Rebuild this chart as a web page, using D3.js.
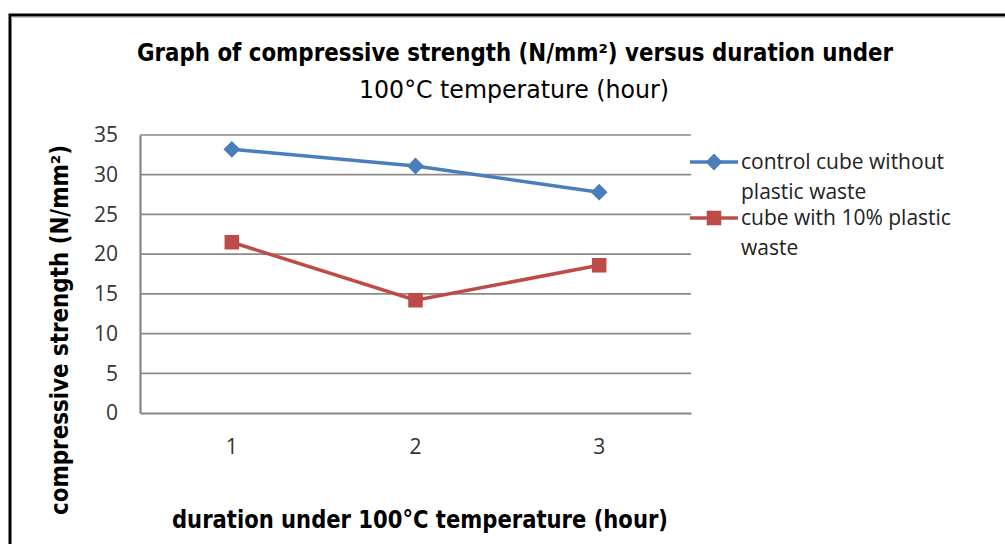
<!DOCTYPE html>
<html><head><meta charset="utf-8">
<script src="https://cdn.jsdelivr.net/npm/d3@7"></script>
<style>body{margin:0;background:#fff}svg{display:block}</style>
</head><body>
<svg id="c" width="1005" height="544"></svg>
<script>
const categories = ["1", "2", "3"];
const controlValues = [33.2, 31.1, 27.8];
const plasticValues = [21.5, 14.2, 18.6];
const yTicks = [0, 5, 10, 15, 20, 25, 30, 35];
const seriesNames = [["control cube without", "plastic waste"], ["cube with 10% plastic", "waste"]];
const colors = ["#4a7ebb", "#be4b48"];

const svg = d3.select("#c");
const cond = "'DejaVu Sans Condensed','Open Sans',sans-serif";
const reg = "'Open Sans','Noto Sans',sans-serif";

// frame
svg.append("path").attr("d", "M10,544 V15 H1005").attr("fill", "none").attr("stroke", "#000").attr("stroke-width", 3);
svg.append("line").attr("x1", 11).attr("x2", 1005).attr("y1", 17.5).attr("y2", 17.5).attr("stroke", "#ccc").attr("stroke-width", 1);

const x = d3.scaleBand().domain(categories).range([140, 691]);
const y = d3.scaleLinear().domain([0, 35]).range([413, 135]);

// gridlines
svg.append("g").selectAll("line").data(yTicks.filter(d => d > 0)).join("line")
  .attr("x1", 140).attr("x2", 691).attr("y1", d => y(d)).attr("y2", d => y(d))
  .attr("stroke", "#8a8a8a").attr("stroke-width", 1.7);

// axes
const ya = svg.append("g").attr("transform", "translate(140,0)")
  .call(d3.axisLeft(y).tickValues(yTicks).tickSize(0).tickPadding(22));
ya.select(".domain").attr("stroke", "#868686").attr("stroke-width", 2.2);
ya.selectAll("text").attr("font-family", reg).attr("font-size", 21).attr("fill", "#333");

const xa = svg.append("g").attr("transform", "translate(0,413)")
  .call(d3.axisBottom(x).tickSize(0).tickPadding(26));
xa.select(".domain").attr("stroke", "#868686").attr("stroke-width", 2.2);
xa.selectAll("text").attr("font-family", reg).attr("font-size", 21).attr("fill", "#333");

const cx = d => x(d) + x.bandwidth() / 2;
const series = [controlValues, plasticValues];
const line = d3.line().x((d, i) => cx(categories[i])).y(d => y(d));
const diamond = d3.symbol().type(d3.symbolDiamond2).size(180);
const square = d3.symbol().type(d3.symbolSquare2).size(270);
const shapes = [diamond, square];

series.forEach((vals, s) => {
  svg.append("path").datum(vals).attr("d", line).attr("fill", "none")
    .attr("stroke", colors[s]).attr("stroke-width", 3.5);
  svg.append("g").selectAll("path").data(vals).join("path")
    .attr("transform", (d, i) => `translate(${cx(categories[i])},${y(d)})`)
    .attr("d", shapes[s]).attr("fill", colors[s]);
});

// legend
const legY = [162, 218];
seriesNames.forEach((names, s) => {
  svg.append("line").attr("x1", 690).attr("x2", 738).attr("y1", legY[s]).attr("y2", legY[s])
    .attr("stroke", colors[s]).attr("stroke-width", 3.5);
  svg.append("path").attr("transform", `translate(714,${legY[s]})`).attr("d", shapes[s]).attr("fill", colors[s]);
  names.forEach((t, k) => {
    svg.append("text").attr("x", 741).attr("y", legY[s] + 7 + k * 30)
      .attr("font-family", reg).attr("font-size", 21).attr("fill", "#222").text(t);
  });
});

// title
svg.append("text").attr("x", 515).attr("y", 61).attr("text-anchor", "middle")
  .attr("font-family", cond).attr("font-weight", "bold").attr("font-size", 24).attr("fill", "#000")
  .attr("textLength", 756).attr("lengthAdjust", "spacingAndGlyphs")
  .text("Graph of compressive strength (N/mm²) versus duration under");
svg.append("text").attr("x", 514).attr("y", 98).attr("text-anchor", "middle")
  .attr("font-family", cond).attr("font-size", 25).attr("fill", "#000")
  .attr("textLength", 310).attr("lengthAdjust", "spacingAndGlyphs")
  .text("100°C temperature (hour)");

// x axis title
svg.append("text").attr("x", 420).attr("y", 528).attr("text-anchor", "middle")
  .attr("font-family", cond).attr("font-weight", "bold").attr("font-size", 24).attr("fill", "#000")
  .attr("textLength", 496).attr("lengthAdjust", "spacingAndGlyphs")
  .text("duration under 100°C temperature (hour)");

// y axis title
svg.append("text").attr("transform", "translate(68,330) rotate(-90)").attr("text-anchor", "middle")
  .attr("font-family", cond).attr("font-weight", "bold").attr("font-size", 24).attr("fill", "#000")
  .attr("textLength", 370).attr("lengthAdjust", "spacingAndGlyphs")
  .text("compressive strength (N/mm²)");
</script>
</body></html>
